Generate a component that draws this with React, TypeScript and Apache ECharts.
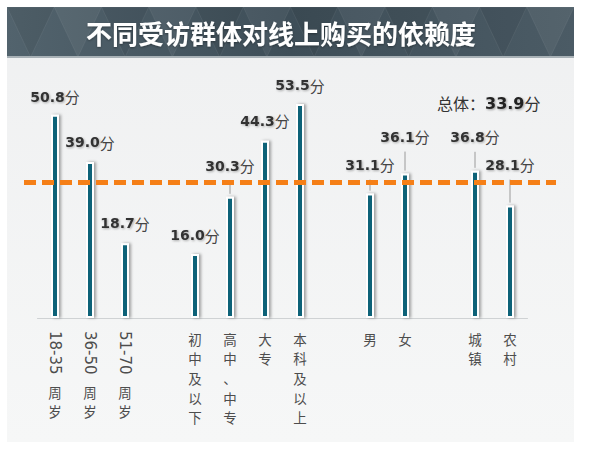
import React, { useEffect, useRef } from 'react'
import * as echarts from 'echarts'

const ageGroups = ['18-35周岁', '36-50周岁', '51-70周岁']
const ageScores = [50.8, 39.0, 18.7]
const eduGroups = ['初中及以下', '高中、中专', '大专', '本科及以上']
const eduScores = [16.0, 30.3, 44.3, 53.5]
const genderGroups = ['男', '女']
const genderScores = [31.1, 36.1]
const areaGroups = ['城镇', '农村']
const areaScores = [36.8, 28.1]
const overallScore = 33.9

// label lift above the bar top (px) and which labels get a leader line
const labelLift: Record<string, number> = {
  '18-35周岁': 18,
  '36-50周岁': 20,
  '51-70周岁': 20,
  '初中及以下': 19,
  '高中、中专': 31,
  '大专': 20,
  '本科及以上': 19,
  '男': 29,
  '女': 37,
  '城镇': 34,
  '农村': 41,
}
const withLeader = ['高中、中专', '男', '女', '城镇', '农村']

const groups: [string[], number[]][] = [
  [ageGroups, ageScores],
  [eduGroups, eduScores],
  [genderGroups, genderScores],
  [areaGroups, areaScores],
]

const categories: string[] = []
const scores: (number | null)[] = []
groups.forEach(([names, vals], gi) => {
  if (gi > 0) {
    categories.push(' '.repeat(gi))
    scores.push(null)
  }
  names.forEach((n, i) => {
    categories.push(n)
    scores.push(vals[i])
  })
})

const TEAL = '#0f6278'
const LABEL_FONT = '"Noto Sans CJK SC", "Noto Sans", sans-serif'

// split "18-35周岁" into the sideways digit run and the upright rest
const digitPart = (s: string) => {
  const m = s.match(/^[\d-]+/)
  return m ? m[0] : ''
}
const restPart = (s: string) => s.slice(digitPart(s).length).trim()
const vertical = (s: string) => s.split('').join('\n')

function decorations() {
  const els: any[] = [
    {
      type: 'rect',
      shape: { x: 7, y: 7, width: 567, height: 435 },
      style: {
        fill: new echarts.graphic.LinearGradient(0, 0, 0, 1, [
          { offset: 0, color: '#eff0f1' },
          { offset: 1, color: '#f6f7f7' },
        ]),
      },
      z: -10,
      silent: true,
    },
    {
      type: 'rect',
      shape: { x: 7, y: 7, width: 567, height: 50 },
      style: {
        fill: new echarts.graphic.LinearGradient(0, 0, 1, 0, [
          { offset: 0, color: '#52636d' },
          { offset: 0.5, color: '#3e4e58' },
          { offset: 1, color: '#4b5b65' },
        ]),
      },
      z: -9,
      silent: true,
    },
  ]
  const step = 567 / 12
  for (let i = 0; i < 12; i++) {
    const x0 = 7 + i * step
    els.push({
      type: 'polygon',
      shape: { points: [[x0, 7], [x0 + step, 7], [x0 + step / 2, 57]] },
      style: {
        fill: i % 2 ? 'rgba(255,255,255,0.05)' : 'rgba(0,0,0,0.06)',
        stroke: 'rgba(255,255,255,0.06)',
      },
      z: -8,
      silent: true,
    })
  }
  els.push(
    {
      type: 'rect',
      shape: { x: 7, y: 56, width: 567, height: 2 },
      style: { fill: '#a8b1b6' },
      z: -7,
      silent: true,
    },
    {
      type: 'text',
      x: 281,
      y: 32,
      style: {
        text: '不同受访群体对线上购买的依赖度',
        fill: '#ffffff',
        font: `bold 26px ${LABEL_FONT}`,
        align: 'center',
        verticalAlign: 'middle',
        textShadowColor: 'rgba(0,0,0,0.35)',
        textShadowBlur: 2,
        textShadowOffsetY: 1,
      },
      z: 5,
    },
    {
      type: 'text',
      x: 437,
      y: 103,
      style: {
        text: `{a|总体：}{b|${overallScore.toFixed(1)}}{c|分}`,
        verticalAlign: 'middle',
        rich: {
          a: { fontSize: 16, fontFamily: LABEL_FONT, fill: '#333' },
          b: {
            fontSize: 16,
            fontWeight: 'bold',
            fontFamily: '"DejaVu Sans", sans-serif',
            fill: '#222',
            textShadowColor: 'rgba(0,0,0,0.35)',
            textShadowBlur: 2,
            textShadowOffsetX: 1,
            textShadowOffsetY: 1,
          },
          c: { fontSize: 16, fontFamily: LABEL_FONT, fill: '#333' },
        },
      },
      z: 5,
    }
  )
  return els
}

const hiddenCategoryAxis = {
  type: 'category',
  data: categories,
  position: 'bottom',
  axisLine: { show: false },
  axisTick: { show: false },
}

export default function App() {
  const ref = useRef<HTMLDivElement>(null)

  useEffect(() => {
    if (!ref.current) return
    const chart = echarts.init(ref.current, undefined, { renderer: 'svg' })

    const barData = scores.map((v, i) => {
      if (v == null) return '-'
      const lift = labelLift[categories[i]] ?? 20
      return { value: v, label: { distance: lift - 8 } }
    })

    const leaderData = scores
      .map((v, i) =>
        v != null && withLeader.includes(categories[i]) ? [i, v, labelLift[categories[i]]] : null
      )
      .filter(Boolean)

    const uprightLabel = {
      interval: 0,
      color: '#4d4d4d',
      fontSize: 13.5,
      lineHeight: 19.6,
      fontFamily: LABEL_FONT,
    }

    chart.setOption({
      animation: false,
      grid: { left: 37.5, right: 63.5, top: 78, bottom: 133 },
      xAxis: [
        {
          type: 'category',
          data: categories,
          axisLine: { lineStyle: { color: '#cfd2d4', width: 1 } },
          axisTick: { show: false },
          axisLabel: {
            ...uprightLabel,
            margin: 11,
            formatter: (val: string) => (digitPart(val) ? '' : vertical(val.trim())),
          },
        },
        {
          ...hiddenCategoryAxis,
          axisLabel: {
            interval: 0,
            margin: 13,
            rotate: -90,
            color: '#4d4d4d',
            fontSize: 15,
            fontFamily: '"DejaVu Sans", sans-serif',
            formatter: (val: string) => digitPart(val),
          },
        },
        {
          ...hiddenCategoryAxis,
          axisLabel: {
            ...uprightLabel,
            margin: 64,
            formatter: (val: string) => (digitPart(val) ? vertical(restPart(val)) : ''),
          },
        },
      ],
      yAxis: { type: 'value', min: 0, max: 60, show: false },
      series: [
        {
          type: 'bar',
          data: barData,
          barWidth: 8,
          itemStyle: {
            color: TEAL,
            borderColor: '#ffffff',
            borderWidth: 2,
            shadowColor: 'rgba(0,0,0,0.35)',
            shadowBlur: 3,
            shadowOffsetX: 2,
          },
          label: {
            show: true,
            position: 'top',
            formatter: (p: any) => `{v|${Number(p.value).toFixed(1)}}{u|分}`,
            rich: {
              v: {
                fontSize: 14,
                lineHeight: 16,
                fontWeight: 'bold',
                fontFamily: '"DejaVu Sans", sans-serif',
                color: '#333',
                textShadowColor: 'rgba(0,0,0,0.3)',
                textShadowBlur: 2,
                textShadowOffsetX: 1,
                textShadowOffsetY: 1,
              },
              u: { fontSize: 15, lineHeight: 16, fontFamily: LABEL_FONT, color: '#444' },
            },
          },
          z: 3,
        },
        {
          type: 'custom',
          data: leaderData,
          silent: true,
          z: 2,
          renderItem: (_params: any, api: any) => {
            const p = api.coord([api.value(0), api.value(1)])
            const lift = api.value(2)
            return {
              type: 'line',
              shape: { x1: p[0], y1: p[1] - 3, x2: p[0], y2: p[1] - lift + 15 },
              style: { stroke: '#9a9a9a', lineWidth: 1 },
            }
          },
        },
      ],
    })

    const yOverall = chart.convertToPixel({ yAxisIndex: 0 }, overallScore) as number
    chart.setOption({
      graphic: [
        ...decorations(),
        {
          type: 'line',
          shape: { x1: 24, y1: yOverall, x2: 556, y2: yOverall },
          style: { stroke: '#f57f17', lineWidth: 5, lineDash: [12, 6] },
          z: 100,
          silent: true,
        },
      ],
    })

    return () => chart.dispose()
  }, [])

  return (
    <div
      ref={ref}
      style={{ position: 'fixed', left: 0, top: 0, width: 591, height: 451, background: '#fff' }}
    />
  )
}
